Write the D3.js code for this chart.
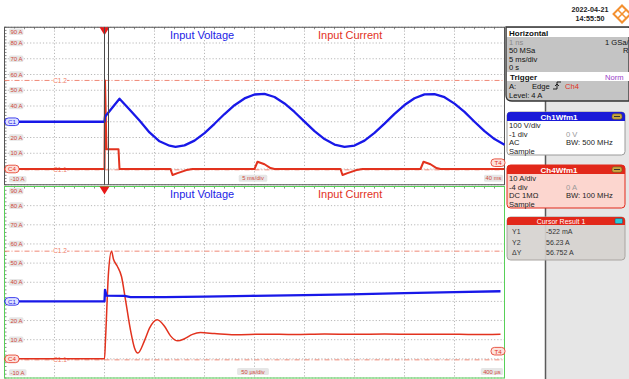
<!DOCTYPE html>
<html>
<head>
<meta charset="utf-8">
<script src="https://cdn.jsdelivr.net/npm/d3@7"></script>
<style>
  body { margin: 0; background: #fff; }
  svg { display: block; }
  text { font-family: "Liberation Sans", Arial, sans-serif; }
</style>
</head>
<body>
<svg id="scope" width="629" height="379"></svg>
<script>
// ---- grid level labels (Ch4 current scale, 10 A/div) ----
const levelValues = [90, 80, 70, 60, 50, 40, 30, 20, 10, 0, -10];
const levelLabels = ["90 A", "80 A", "70 A", "60 A", "50 A", "40 A", "30 A", "20 A", "10 A", "0 A", "-10 A"];

// ---- slow sweep (5 ms/div), time in ms ----
const slowVoltTime = [-10, -5, 0, 0.05, 1.5, 2.5, 3.5, 4.5, 5.5, 6.5, 7.1, 8, 9, 10, 11, 12, 13, 14, 15, 16, 17, 18, 19, 20, 21, 22, 23, 24, 25, 26, 27, 28, 29, 30, 31, 32, 33, 34, 35, 36, 37, 38, 39, 40];
const slowVoltage  = [0, 0, 0, 32, 146, 78, 8, -68, -124, -152, -159, -150, -120, -72, -13, 49, 105, 148, 173, 177, 157, 116, 62, 1, -60, -110, -145, -159, -151, -120, -71, -12, 50, 106, 149, 174, 176, 156, 115, 63, 0, -60, -110, -146];

const slowCurTime = [-10, 0, 0.05, 0.2, 1.4, 1.5, 6.6, 6.8, 7.3, 8.2, 8.8, 15, 15.3, 16, 16.6, 17, 23.6, 23.8, 24.3, 25.2, 25.8, 31.6, 31.9, 32.6, 33.2, 33.6, 40];
const slowCurrent = [0, 0, 56.2, 12.5, 12.5, 0, 0, -3.8, -2.6, -0.7, 0, 0, 4.6, 3.0, 0.6, 0, 0, -3.8, -2.6, -0.7, 0, 0, 4.6, 3.0, 0.6, 0, 0];

// ---- fast sweep (50 µs/div), time in µs ----
const fastVoltTime = [-100, -60, -20, 0, 0.5, 2, 20, 26, 60, 100, 146, 200, 246, 300, 350, 396];
const fastVoltage  = [0, 0.5, 0, 0, 60, 30, 29, 22, 22, 25, 29, 33, 37, 43, 48, 53];

const fastCurTime = [-100, 0, 1, 4, 7, 9, 12.7, 17, 21, 26, 30, 33.3, 40, 45, 52.7, 60, 66, 73.3, 80, 88, 96, 110, 130, 160, 190, 220, 250, 280, 310, 340, 370, 396];
const fastCurrent = [0, 0, 10, 45, 56.2, 52, 48.5, 43, 30.8, 15, 5.7, 3.0, 9.5, 16, 20.4, 17, 12, 9.4, 10.5, 12.8, 13.7, 13.2, 12.6, 12.9, 12.7, 13.0, 12.8, 13.0, 12.8, 12.9, 12.7, 12.9];

// ---- cursor readout ----
const cursorY1 = -0.522;   // A
const cursorY2 = 56.23;    // A
const cursorRows = [["Y1", "-522 mA"], ["Y2", "56.23 A"], ["ΔY", "56.752 A"]];

const BLUE = "#1818e8", RED = "#e2321e", CURSOR = "#ee7a66";
const svg = d3.select("#scope");

// Two diagrams stacked; Ch1 has 0 V one division below centre, 100 V/div
function panel(cfg) {
  const g = svg.append("g");
  const x = d3.scaleLinear().domain(cfg.tDomain).range([4.5, 504.5]);
  const yA = d3.scaleLinear().domain([-10, 90]).range([cfg.y1, cfg.y0]);
  const yV = d3.scaleLinear().domain([-400, 600]).range([cfg.y1, cfg.y0]);
  const step = (cfg.tDomain[1] - cfg.tDomain[0]) / 10;
  const vTicks = d3.range(11).map(i => cfg.tDomain[0] + i * step);

  // dotted grid
  g.selectAll(".gv").data(vTicks).join("line")
    .attr("x1", d => x(d)).attr("x2", d => x(d))
    .attr("y1", cfg.y0).attr("y2", cfg.y1)
    .attr("stroke", "#b8b8b8").attr("stroke-dasharray", "1.2,2");
  g.selectAll(".gh").data(levelValues).join("line")
    .attr("x1", 4.5).attr("x2", 504.5)
    .attr("y1", d => yA(d)).attr("y2", d => yA(d))
    .attr("stroke", "#b8b8b8").attr("stroke-dasharray", "1.2,2");

  // minor ticks on the frame
  const minorT = d3.range(51).map(i => cfg.tDomain[0] + i * step / 5);
  g.selectAll(".mt").data(minorT).join("line")
    .attr("x1", d => x(d)).attr("x2", d => x(d))
    .attr("y1", cfg.y0).attr("y2", cfg.y0 + 2)
    .attr("stroke", "#888");
  const minorA = d3.range(51).map(i => -10 + i * 2);
  g.selectAll(".ma").data(minorA).join("line")
    .attr("x1", 4.5).attr("x2", 6.5)
    .attr("y1", d => yA(d)).attr("y2", d => yA(d))
    .attr("stroke", "#888");

  // frame
  g.append("rect").attr("x", 4.5).attr("y", cfg.y0).attr("width", 500).attr("height", cfg.y1 - cfg.y0)
    .attr("fill", "none").attr("stroke", cfg.frame).attr("stroke-width", 1);

  // horizontal cursors
  [cursorY1, cursorY2].forEach((v, i) => {
    g.append("line").attr("x1", 4.5).attr("x2", 504.5).attr("y1", yA(v)).attr("y2", yA(v))
      .attr("stroke", CURSOR).attr("stroke-width", 0.9).attr("stroke-dasharray", "5,2,1,2");
    const lbl = i === 0 ? "C1.1" : "C1.2";
    g.append("rect").attr("x", 53).attr("y", yA(v) - 3.5).attr("width", 14).attr("height", 7).attr("fill", "#fff");
    g.append("text").attr("x", 60).attr("y", yA(v) + 2.2).attr("text-anchor", "middle")
      .attr("font-size", 6.5).attr("fill", CURSOR).text(lbl);
  });

  // level labels (the ground markers sit on the 30 A and 0 A rows)
  const shown = levelValues.map((v, i) => ({ v, t: levelLabels[i] })).filter(d => d.v !== 30 && d.v !== 0);
  const lab = g.selectAll(".lab").data(shown)
    .join("g").attr("transform", d => {
      let cy = yA(d.v);
      cy = Math.max(cfg.y0 + 4.5, Math.min(cfg.y1 - 5.5, cy));
      return `translate(9,${cy})`;
    });
  lab.append("rect").attr("x", 0).attr("y", -3.3).attr("width", d => d.t.length * 3.1 + 2).attr("height", 6.6)
    .attr("rx", 1.5).attr("fill", "#e6e6e6");
  lab.append("text").attr("x", 1.5).attr("y", 2.2).attr("font-size", 6).attr("fill", "#d0483a").text(d => d.t);

  // trigger reference
  g.append("path").attr("d", `M${x(0) - 5},${cfg.y0} L${x(0) + 5},${cfg.y0} L${x(0)},${cfg.y0 + 8} Z`).attr("fill", "#e81818");

  // waveforms
  const line = (ys, curve) => d3.line().x(d => x(d[0])).y(d => ys(d[1])).curve(curve);
  g.append("path").datum(d3.zip(cfg.cT, cfg.cV)).attr("fill", "none").attr("stroke", RED)
    .attr("stroke-width", cfg.redW).attr("stroke-linejoin", "round")
    .attr("d", line(yA, cfg.redCurve));
  g.append("path").datum(d3.zip(cfg.vT, cfg.vV)).attr("fill", "none").attr("stroke", BLUE)
    .attr("stroke-width", 2.3).attr("stroke-linejoin", "round")
    .attr("d", line(yV, d3.curveLinear));

  // channel ground markers
  const marker = (yy, txt, col, fill) => {
    const m = g.append("g").attr("transform", `translate(5,${yy})`);
    m.append("rect").attr("x", 0).attr("y", -3.8).attr("width", 14).attr("height", 7.6).attr("rx", 3.5)
      .attr("fill", fill).attr("stroke", col).attr("stroke-width", 0.8);
    m.append("text").attr("x", 7).attr("y", 2.3).attr("text-anchor", "middle").attr("font-size", 6.2)
      .attr("fill", col).text(txt);
  };
  marker(yV(0), "C1", BLUE, "#dfe3ff");
  marker(yA(0), "C4", RED, "#fde2dc");

  // trigger level marker on the right edge
  const tl = g.append("g").attr("transform", `translate(491,${yA(4)})`);
  tl.append("rect").attr("x", 0).attr("y", -3.8).attr("width", 14).attr("height", 7.6).attr("rx", 3.5)
    .attr("fill", "#fde2dc").attr("stroke", RED).attr("stroke-width", 0.8);
  tl.append("text").attr("x", 7).attr("y", 2.3).attr("text-anchor", "middle").attr("font-size", 6.2)
    .attr("fill", RED).text("T4");

  // time labels
  const tag = (cx, cy, txt, anchor) => {
    const w = txt.length * 3.2 + 3;
    const x0 = anchor === "end" ? cx - w : cx - w / 2;
    g.append("rect").attr("x", x0).attr("y", cy - 3.5).attr("width", w).attr("height", 7).attr("rx", 1.5).attr("fill", "#e6e6e6");
    g.append("text").attr("x", x0 + w / 2).attr("y", cy + 2.2).attr("text-anchor", "middle")
      .attr("font-size", 5.8).attr("fill", "#d0483a").text(txt);
  };
  tag(253, cfg.y1 - 6.5, cfg.divLabel, "middle");
  tag(503, cfg.y1 - 6.5, cfg.endLabel, "end");

  // titles
  g.append("text").attr("x", 170).attr("y", cfg.y0 + 11.3).attr("font-size", 11).attr("fill", "#1c1ce6").text("Input Voltage");
  g.append("text").attr("x", 318).attr("y", cfg.y0 + 11.3).attr("font-size", 11).attr("fill", "#e2321e").text("Input Current");
  return { x, yA };
}

const slowPanel = panel({ tDomain: [-10, 40], y0: 27.25, y1: 184.75, frame: "#555",
  vT: slowVoltTime, vV: slowVoltage, cT: slowCurTime, cV: slowCurrent, redW: 2, redCurve: d3.curveLinear,
  divLabel: "5 ms/div", endLabel: "40 ms" });
// vertical cursors in the slow sweep
[0, 0.4].forEach(t => {
  svg.append("line").attr("x1", slowPanel.x(t)).attr("x2", slowPanel.x(t)).attr("y1", 27.25).attr("y2", 184.75)
    .attr("stroke", "#4a4a4a").attr("stroke-width", 1);
});

panel({ tDomain: [-100, 400], y0: 186.5, y1: 378, frame: "#58d058",
  vT: fastVoltTime, vV: fastVoltage, cT: fastCurTime, cV: fastCurrent, redW: 1.5, redCurve: d3.curveMonotoneX,
  divLabel: "50 µs/div", endLabel: "400 µs" });

// ---- side panel ----
const side = svg.append("g");
side.append("rect").attr("x", 545).attr("y", 101).attr("width", 84).attr("height", 278).attr("fill", "#e6e6e6");
side.append("line").attr("x1", 545.5).attr("x2", 545.5).attr("y1", 101).attr("y2", 379).attr("stroke", "#5a5a5a").attr("stroke-width", 1.5);

// horizontal / trigger box
side.append("path").attr("d", "M506,27 L629,27 L629,101 L512,101 Q506,101 506,95 Z")
  .attr("fill", "#c4c4c4").attr("stroke", "#333").attr("stroke-width", 1.3);
side.append("rect").attr("x", 507).attr("y", 28).attr("width", 122).attr("height", 9).attr("fill", "#fff");
side.append("rect").attr("x", 507).attr("y", 72).attr("width", 122).attr("height", 9).attr("fill", "#fff");
const st = (x, y, txt, col, size, anchor) => side.append("text").attr("x", x).attr("y", y)
  .attr("font-size", size || 7.6).attr("fill", col || "#111").attr("text-anchor", anchor || "start").text(txt);
st(509, 35.5, "Horizontal", "#111", 8).attr("font-weight", "bold");
st(509, 44.5, "1 ns", "#8a8a8a");
st(605, 44.5, "1 GSa/");
st(509, 53, "50 MSa");
st(623, 53, "R");
st(509, 61.5, "5 ms/div");
st(509, 70, "0 s");
st(510, 79.5, "Trigger", "#111", 8).attr("font-weight", "bold");
st(605, 80, "Norm", "#9a3ec8");
st(509, 89, "A:");
st(532, 89, "Edge");
side.append("path").attr("d", "M553,89 L557,89 L557,82 L561,82 M555,86 L557,84 L559,86").attr("fill", "none").attr("stroke", "#111").attr("stroke-width", 0.9);
st(565, 89, "Ch4", "#e2321e");
st(509, 97.5, "Level: 4 A");

// channel boxes
function chanBox(y, title, head, body, border, rows) {
  const b = side.append("g");
  b.append("rect").attr("x", 507).attr("y", y).attr("width", 118).attr("height", 43).attr("rx", 3.5)
    .attr("fill", body).attr("stroke", border).attr("stroke-width", 1);
  b.append("path").attr("d", `M507,${y + 9} L507,${y + 3.5} Q507,${y} 510.5,${y} L621.5,${y} Q625,${y} 625,${y + 3.5} L625,${y + 9} Z`).attr("fill", head);
  b.append("text").attr("x", 559).attr("y", y + 7.5).attr("text-anchor", "middle").attr("font-size", 8)
    .attr("font-weight", "bold").attr("fill", "#fff").text(title);
  b.append("rect").attr("x", 612).attr("y", y + 1.8).attr("width", 10).attr("height", 5.5).attr("rx", 2)
    .attr("fill", "#c9a640").attr("stroke", "#6a5a20").attr("stroke-width", 0.6);
  b.append("line").attr("x1", 614).attr("x2", 620).attr("y1", y + 4.5).attr("y2", y + 4.5).attr("stroke", "#333").attr("stroke-width", 1);
  rows.forEach((r, i) => {
    b.append("text").attr("x", 509).attr("y", y + 16 + i * 8.6).attr("font-size", 7.6).attr("fill", "#222").text(r[0]);
    if (r[1]) b.append("text").attr("x", 566).attr("y", y + 16 + i * 8.6).attr("font-size", 7.6)
      .attr("fill", r[2] || "#222").text(r[1]);
  });
}
chanBox(112, "Ch1Wfm1", "#1a1ad8", "#fff", "#9a9a9a",
  [["100 V/div"], ["-1 div", "0 V", "#999"], ["AC", "BW: 500 MHz"], ["Sample"]]);
chanBox(165, "Ch4Wfm1", "#e2281a", "#fcd6cf", "#e2281a",
  [["10 A/div"], ["-4 div", "0 A", "#999"], ["DC 1MΩ", "BW: 100 MHz"], ["Sample"]]);

// cursor results
const cr = side.append("g");
cr.append("rect").attr("x", 507).attr("y", 217).attr("width", 118).attr("height", 43).attr("rx", 3.5)
  .attr("fill", "#d6d2cf").attr("fill-opacity", 0.92).attr("stroke", "#a8a4a0").attr("stroke-width", 1);
cr.append("path").attr("d", "M507,225 L507,220.5 Q507,217 510.5,217 L621.5,217 Q625,217 625,220.5 L625,225 Z").attr("fill", "#e2281a");
cr.append("text").attr("x", 561).attr("y", 223.6).attr("text-anchor", "middle").attr("font-size", 7).attr("fill", "#fff").text("Cursor Result 1");
cr.append("rect").attr("x", 615).attr("y", 218.5).attr("width", 7.5).attr("height", 5).attr("rx", 1).attr("fill", "#28c8d8").attr("stroke", "#1a5a70").attr("stroke-width", 0.5);
cursorRows.forEach((r, i) => {
  cr.append("text").attr("x", 512).attr("y", 234 + i * 10.5).attr("font-size", 7).attr("fill", "#333").text(r[0]);
  cr.append("text").attr("x", 546).attr("y", 234 + i * 10.5).attr("font-size", 7).attr("fill", "#333").text(r[1]);
});

// date / time stamp
svg.append("text").attr("x", 590).attr("y", 12).attr("text-anchor", "middle").attr("font-size", 7.2)
  .attr("font-family", "DejaVu Sans Mono").attr("font-weight", "bold").attr("fill", "#222").text("2022-04-21");
svg.append("text").attr("x", 590).attr("y", 20.5).attr("text-anchor", "middle").attr("font-size", 7.2)
  .attr("font-family", "DejaVu Sans Mono").attr("font-weight", "bold").attr("fill", "#222").text("14:55:50");
// brand mark
const logo = svg.append("g").attr("transform", "translate(622,14) rotate(45)");
logo.append("rect").attr("x", -6).attr("y", -6).attr("width", 12).attr("height", 12).attr("fill", "none")
  .attr("stroke", "#f39030").attr("stroke-width", 2);
logo.append("line").attr("x1", -6).attr("x2", 6).attr("y1", 0).attr("y2", 0).attr("stroke", "#f39030").attr("stroke-width", 1.6);
logo.append("line").attr("x1", 0).attr("x2", 0).attr("y1", -6).attr("y2", 6).attr("stroke", "#f39030").attr("stroke-width", 1.6);
</script>
</body>
</html>
